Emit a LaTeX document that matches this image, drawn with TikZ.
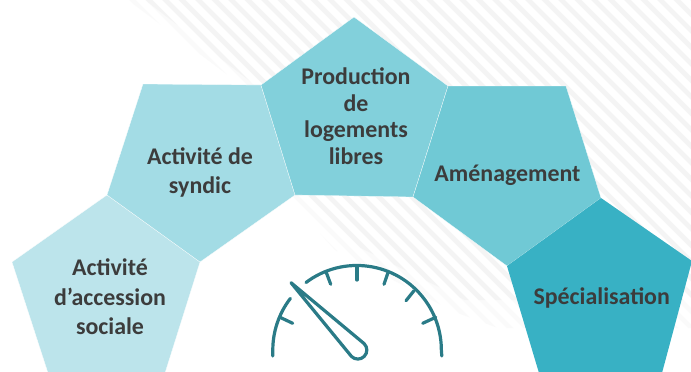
\documentclass[tikz,border=0pt]{standalone}
\usepackage{fontspec}
\setmainfont{Carlito}
\tikzset{
  penta/.style={draw=white,line width=0.25pt,line join=miter},
  lab/.style={font=\fontsize{23.9}{29.5}\selectfont\bfseries,text=txt,align=center,inner sep=0pt,anchor=base},
  gauge/.style={draw=gg,line width=3.2pt,line cap=round,line join=round},
  stripe/.style={line width=4.5pt}
}
\definecolor{txt}{HTML}{3C3C3C}
\definecolor{gg}{HTML}{2A7B87}
\definecolor{p1}{HTML}{BCE4EB}
\definecolor{p2}{HTML}{A3DCE5}
\definecolor{p3}{HTML}{82D0DB}
\definecolor{p4}{HTML}{70C9D5}
\definecolor{p5}{HTML}{38B1C4}
\definecolor{sa}{HTML}{F4F4F4}
\definecolor{sb}{HTML}{FAFAFA}
\begin{document}
\begin{tikzpicture}[x=1pt,y=-1pt]
\useasboundingbox (0,0) rectangle (691,372);
\fill[white] (0,0) rectangle (691,372);
% hatched backdrop, fading at its lower-left edge
\begin{scope}
 \clip (128,0) -- (245,88) -- (285,195) -- (335,250) -- (455,312) -- (498,328) -- (691,328) -- (691,0) -- cycle;
 \foreach \i in {0,...,60} \draw[sb,stripe] ({120+\i*16.5},400) -- ++(-420,-420);
\end{scope}
\begin{scope}
 \clip (145,0) -- (255,85) -- (300,195) -- (345,240) -- (465,300) -- (691,300) -- (691,0) -- cycle;
 \foreach \i in {0,...,60} \draw[sa,stripe] ({120+\i*16.5},400) -- ++(-420,-420);
\end{scope}
% pentagons
\fill[p1,penta] (107,195) -- (200,262) -- (165,373) -- (48,373) -- (12,262) -- cycle;
\fill[p2,penta] (143,84) -- (261,85) -- (295,195) -- (200,262) -- (107,195) -- cycle;
\fill[p3,penta] (354,17) -- (448,86) -- (413,197) -- (295,195) -- (261,85) -- cycle;
\fill[p4,penta] (448,86) -- (566,86) -- (601,198) -- (507,266) -- (413,197) -- cycle;
\fill[p5] (601,198) -- (692,261) -- (662,373) -- (539,373) -- (507,266) -- cycle;
% labels
\node[lab] (accession) at (110,334.5) {Activité\\d’accession\\sociale};
\node[lab] (syndic) at (200,193.5) {Activité de\\syndic};
\node[lab,font=\fontsize{23.9}{26.4}\selectfont\bfseries] (production) at (356,164) {Production\\de\\logements\\libres};
\node[lab] (amenagement) at (507.5,181) {Aménagement};
\node[lab] (specialisation) at (601.7,304) {Spécialisation};
% gauge
\draw[gauge] (272.8,356) -- (272.8,350) arc[start angle=180,end angle=217.6,radius=84.5];
\draw[gauge] (306,282.5) arc[start angle=233,end angle=360,radius=84.5] -- (441.8,356);
\draw[gauge] (326,271.7) -- (330.7,284.3);
\draw[gauge] (357,267) -- (357,280);
\draw[gauge] (388.3,271.7) -- (384,284.3);
\draw[gauge] (414,290.7) -- (406,300.7);
\draw[gauge] (435.7,317.3) -- (422.7,323.3);
\draw[gauge] (280,317.3) -- (292.7,323.3);
\draw[gauge] (291,282.7) -- (364.2,343.7) arc[start angle=-45,end angle=135,radius=9] -- cycle;
\end{tikzpicture}
\end{document}
